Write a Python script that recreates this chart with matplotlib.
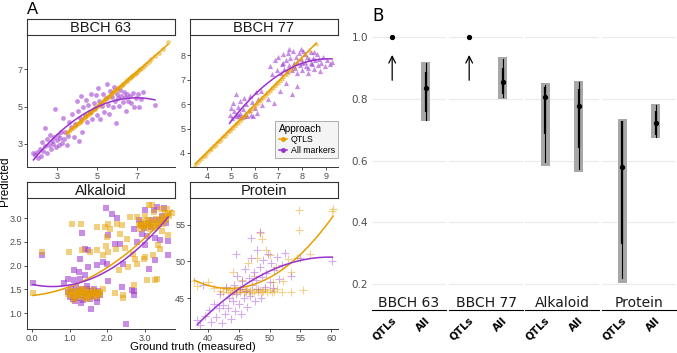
import numpy as np
import matplotlib
matplotlib.use("Agg")
import matplotlib.pyplot as plt
import matplotlib.transforms as mtransforms
from matplotlib.lines import Line2D

W, H = 677, 353
ORANGE = "#E69F00"
PURPLE = "#9A32CD"
SANS = "Liberation Sans"

# ---------------- panel A : predicted vs ground truth ----------------
b63_qtl_x = [3.50, 3.62, 3.71, 3.80, 3.88, 3.95, 4.02, 4.08, 4.15, 4.21, 4.27, 4.33, 4.40,
             4.46, 4.52, 4.58, 4.64, 4.70, 4.77, 4.83, 4.90, 4.96, 5.03, 5.10, 5.16, 5.22,
             5.29, 5.35, 5.41, 5.48, 5.55, 5.61, 5.68, 5.74, 5.81, 5.87, 5.93, 6.00, 6.06,
             6.12, 6.19, 6.25, 6.31, 6.37, 6.44, 6.50, 6.56, 6.63, 6.69, 6.76, 6.82, 6.89,
             6.95, 7.02, 7.09, 7.16, 7.24, 7.33, 7.45, 7.58, 7.72, 7.90, 8.10, 8.30, 8.55]
b63_qtl_y = [3.56, 3.66, 3.77, 3.83, 3.93, 3.98, 4.05, 4.11, 4.16, 4.24, 4.28, 4.36, 4.41,
             4.47, 4.54, 4.58, 4.66, 4.71, 4.77, 4.84, 4.89, 4.97, 5.02, 5.09, 5.15, 5.21,
             5.27, 5.34, 5.39, 5.46, 5.52, 5.58, 5.64, 5.71, 5.76, 5.83, 5.88, 5.94, 6.00,
             6.05, 6.12, 6.17, 6.23, 6.29, 6.35, 6.40, 6.47, 6.52, 6.58, 6.64, 6.70, 6.76,
             6.82, 6.88, 6.95, 7.01, 7.09, 7.17, 7.29, 7.41, 7.55, 7.72, 7.91, 8.10, 8.47]
b63_all_x = [1.82, 1.90, 2.00, 2.05, 2.15, 2.20, 2.25, 2.30, 2.40, 2.40, 2.50, 2.50, 2.60,
             2.65, 2.70, 2.75, 2.80, 2.85, 2.90, 2.95, 3.00, 3.05, 3.10, 3.15, 3.20, 3.25,
             3.30, 3.35, 3.40, 3.50, 3.55, 3.60, 3.70, 3.75, 3.85, 3.90, 4.00, 4.05, 4.10,
             4.15, 4.20, 4.25, 4.30, 4.40, 4.45, 4.50, 4.55, 4.65, 4.70, 4.75, 4.85, 4.90,
             4.95, 5.00, 5.05, 5.10, 5.15, 5.25, 5.30, 5.35, 5.45, 5.50, 5.55, 5.60, 5.65,
             5.75, 5.80, 5.85, 5.90, 5.95, 6.00, 6.05, 6.10, 6.15, 6.20, 6.30, 6.35, 6.40,
             6.45, 6.50, 6.55, 6.65, 6.70, 6.80, 6.85, 6.95, 7.05, 7.10, 7.20, 7.30, 7.90]
b63_all_y = [2.47, 2.40, 2.55, 2.25, 2.70, 2.35, 3.10, 2.60, 2.85, 3.85, 2.50, 3.25, 2.95,
             3.45, 2.70, 3.15, 3.00, 3.35, 4.85, 2.80, 3.20, 3.45, 2.95, 3.30, 3.60, 3.05,
             4.40, 3.25, 3.65, 2.90, 3.40, 4.15, 3.90, 4.60, 3.35, 4.05, 5.30, 4.75, 3.15,
             4.40, 5.55, 3.60, 4.95, 4.55, 5.35, 4.15, 5.10, 4.70, 5.70, 4.35, 5.20, 4.90,
             5.60, 4.55, 6.00, 5.30, 4.30, 5.05, 5.70, 4.70, 5.45, 6.20, 5.10, 4.60, 5.85,
             5.50, 4.95, 6.05, 5.30, 4.10, 5.70, 5.45, 5.05, 5.90, 5.55, 5.25, 5.80, 5.50,
             4.75, 5.70, 5.30, 5.55, 5.20, 5.75, 4.95, 5.45, 5.65, 5.00, 5.40, 5.80, 5.10]

b77_qtl_x = [3.52, 3.60, 3.68, 3.75, 3.83, 3.90, 3.97, 4.04, 4.11, 4.18, 4.25, 4.32, 4.39,
             4.46, 4.53, 4.60, 4.67, 4.74, 4.81, 4.88, 4.95, 5.02, 5.09, 5.16, 5.23, 5.30,
             5.37, 5.44, 5.51, 5.58, 5.65, 5.72, 5.79, 5.86, 5.93, 6.00, 6.07, 6.14, 6.21,
             6.28, 6.35, 6.42, 6.49, 6.56, 6.63, 6.70, 6.77, 6.84, 6.91, 6.98, 7.05, 7.13,
             7.21, 7.30, 7.40, 7.52, 7.65, 7.80, 7.95, 8.12, 8.30, 8.58]
b77_qtl_y = [3.55, 3.63, 3.72, 3.78, 3.86, 3.93, 3.99, 4.06, 4.14, 4.20, 4.27, 4.33, 4.41,
             4.47, 4.54, 4.60, 4.68, 4.74, 4.80, 4.88, 4.94, 5.01, 5.08, 5.14, 5.22, 5.27,
             5.35, 5.42, 5.47, 5.56, 5.61, 5.70, 5.75, 5.83, 5.90, 5.95, 6.04, 6.10, 6.16,
             6.25, 6.30, 6.38, 6.44, 6.51, 6.59, 6.65, 6.72, 6.79, 6.86, 6.93, 6.99, 7.08,
             7.14, 7.25, 7.33, 7.46, 7.58, 7.73, 7.88, 8.05, 8.22, 8.50]
b77_all_x = [4.95, 5.00, 5.05, 5.10, 5.15, 5.20, 5.20, 5.25, 5.30, 5.35, 5.40, 5.40, 5.45,
             5.50, 5.55, 5.55, 5.60, 5.65, 5.70, 5.75, 5.80, 5.85, 5.90, 5.95, 6.00, 6.05,
             6.10, 6.15, 6.25, 6.30, 6.55, 6.80, 7.05, 7.30, 7.55, 7.80,
             6.65, 6.75, 6.85, 6.95, 7.00, 7.10, 7.15, 7.20, 7.25, 7.30, 7.35, 7.40, 7.45,
             7.50, 7.55, 7.60, 7.65, 7.70, 7.75, 7.80, 7.85, 7.90, 7.95, 8.00, 8.05, 8.10,
             8.15, 8.20, 8.25, 8.30, 8.35, 8.40, 8.45, 8.50, 8.55, 8.60, 8.65, 8.70, 8.80,
             8.85, 8.95, 9.05, 9.15, 9.25, 7.45, 7.95, 8.25, 8.75, 7.80, 8.10, 8.50, 7.60,
             8.00, 8.35, 7.20]
b77_all_y = [5.55, 5.85, 5.45, 6.05, 5.70, 5.50, 6.40, 5.60, 5.90, 5.50, 6.15, 5.65, 5.47,
             5.80, 6.25, 5.50, 5.60, 6.00, 5.50, 5.75, 6.35, 5.55, 6.10, 5.50, 5.85, 6.50,
             5.65, 6.20, 6.55, 5.95, 6.20, 6.05, 6.55, 6.85, 6.40, 6.75,
             7.55, 7.25, 7.80, 7.40, 7.95, 7.30, 7.65, 8.05, 7.45, 7.80, 7.35, 8.10, 7.60,
             7.90, 7.40, 8.20, 7.70, 7.50, 7.95, 7.30, 8.10, 7.60, 7.85, 7.40, 8.20, 7.75,
             7.55, 7.95, 7.30, 7.85, 8.15, 7.65, 7.90, 7.45, 7.80, 8.05, 7.60, 7.85, 7.70,
             7.95, 7.55, 7.80, 7.65, 7.75, 8.25, 8.25, 7.50, 7.35, 7.75, 8.05, 8.15, 7.55,
             7.70, 7.70, 7.70]

alk_qtl_x = [3.10, 3.18, 1.06, 1.30, 1.74, 2.03, 2.08, 2.26, 2.39, 2.61, 2.79, 2.87, 2.95,
             3.03, 3.12, 3.36, 3.49, 3.54, 3.72, 3.45, 3.62, 3.36, 3.40, 3.21, 3.01, 2.97,
             2.74, 2.68, 2.48, 2.52, 1.99, 1.97, 2.03, 1.90, 1.74, 1.55, 1.33, 0.98, 0.28,
             0.03, 3.27, 3.05, 3.31, 2.70, 2.43, 2.43, 2.21, 1.90, 1.77, 1.81, 1.11, 2.79,
             2.24, 2.34, 1.95, 0.95, 1.02, 1.08, 1.15, 1.20, 1.26, 1.32, 1.38, 1.44, 1.50,
             1.55, 1.60, 1.66, 1.72, 1.25, 1.45, 2.90, 2.98, 3.06, 3.14, 3.22, 3.30, 3.38,
             3.46, 3.55, 3.62, 3.00, 3.25, 3.42, 3.58, 2.30, 2.55,
             0.98, 1.04, 1.10, 1.16, 1.22, 1.28, 1.34, 1.40, 1.46, 1.52, 1.58, 1.64, 1.70,
             1.76, 1.82, 1.12, 1.36, 1.48, 1.62, 1.30,
             2.84, 2.92, 3.00, 3.08, 3.16, 3.24, 3.32, 3.40, 3.48, 3.56, 3.64, 2.88, 3.12,
             3.28, 3.52]
alk_qtl_y = [3.28, 3.28, 2.88, 2.88, 2.82, 2.88, 2.77, 2.88, 2.85, 3.03, 3.03, 2.85, 2.86,
             2.84, 2.86, 2.84, 2.93, 3.10, 3.10, 2.72, 2.65, 2.43, 2.36, 2.23, 2.18, 2.14,
             2.14, 2.24, 2.37, 2.56, 2.60, 2.42, 2.28, 2.22, 2.32, 2.28, 2.32, 2.28, 2.28,
             1.42, 1.70, 1.70, 1.73, 1.60, 1.38, 1.33, 1.42, 1.52, 1.38, 1.45, 1.28, 2.04,
             2.35, 2.67, 2.82, 1.40, 1.46, 1.36, 1.44, 1.38, 1.47, 1.35, 1.42, 1.48, 1.37,
             1.43, 1.34, 1.45, 1.40, 1.52, 1.30, 2.92, 2.80, 2.95, 2.78, 2.90, 2.98, 2.88,
             3.02, 2.95, 3.08, 3.05, 3.12, 3.20, 3.18, 1.90, 1.98,
             1.44, 1.38, 1.47, 1.35, 1.42, 1.39, 1.46, 1.33, 1.41, 1.45, 1.38, 1.42, 1.35,
             1.44, 1.40, 1.32, 1.50, 1.37, 1.48, 1.43,
             2.86, 2.83, 2.90, 2.87, 2.84, 2.92, 2.85, 2.95, 2.88, 3.00, 3.04, 2.78, 2.95,
             2.80, 2.98]
alk_all_x = [1.96, 2.12, 2.27, 3.01, 3.23, 3.31, 3.50, 1.33, 2.03, 2.70, 2.92, 3.05, 3.27,
             3.40, 3.62, 2.21, 2.34, 2.79, 3.01, 1.41, 1.50, 1.28, 1.72, 1.90, 1.99, 2.43,
             3.10, 3.27, 3.62, 1.50, 1.11, 1.24, 0.97, 1.11, 1.28, 1.41, 0.84, 2.03, 2.38,
             2.70, 2.70, 2.65, 0.03, 0.28, 1.57, 2.50, 1.72, 2.90, 2.98, 3.08, 3.15, 3.20,
             2.85, 0.95, 1.00, 1.05, 1.08, 1.12, 1.16, 1.20, 1.24, 1.28, 1.32, 1.35, 1.38,
             1.42, 1.46, 1.50, 1.53, 1.57, 1.60, 1.64, 1.68, 1.72, 1.76, 1.80, 1.30, 1.45,
             1.15, 3.35, 3.45, 3.55]
alk_all_y = [3.21, 3.09, 3.00, 3.17, 3.17, 3.24, 3.21, 2.68, 2.64, 2.77, 2.66, 2.62, 2.59,
             2.53, 2.51, 2.46, 2.46, 2.49, 2.43, 2.35, 2.32, 2.15, 2.01, 2.08, 2.04, 2.04,
             1.94, 2.11, 2.22, 1.98, 1.91, 1.87, 1.73, 1.70, 1.73, 1.80, 1.63, 1.67, 1.56,
             1.47, 1.38, 1.49, 1.63, 2.23, 1.10, 0.77, 1.24, 2.88, 2.80, 2.90, 2.82, 2.95,
             2.95, 1.45, 1.35, 1.52, 1.30, 1.42, 1.55, 1.33, 1.46, 1.38, 1.50, 1.28, 1.43,
             1.35, 1.52, 1.40, 1.30, 1.46, 1.36, 1.50, 1.42, 1.33, 1.47, 1.38, 1.22, 1.58,
             1.25, 2.95, 3.05, 2.90]

prot_qtl_x = [42.0, 42.5, 43.0, 43.3, 43.6, 43.9, 44.2, 44.4, 44.7, 45.0, 45.2, 45.5, 45.8,
              46.0, 46.3, 46.6, 46.9, 47.2, 47.5, 47.8, 48.1, 48.4, 48.7, 49.0, 49.3, 49.6,
              50.0, 50.4, 50.8, 51.2, 52.0, 37.8, 38.2, 40.0, 41.0, 44.0, 45.5, 46.5, 47.5,
              48.0, 48.5, 48.7, 49.5, 50.1, 50.5, 51.0, 52.2, 53.0, 53.4, 53.4, 54.5, 54.7,
              54.7, 55.5, 56.5, 60.2, 60.3]
prot_qtl_y = [46.0, 45.8, 46.2, 45.9, 46.1, 45.7, 46.0, 46.3, 45.8, 46.1, 45.9, 46.2, 45.8,
              46.0, 46.3, 45.9, 46.1, 45.7, 46.0, 46.2, 45.9, 46.1, 45.8, 46.0, 46.3, 45.9,
              46.1, 45.8, 46.0, 46.2, 45.9, 47.4, 46.6, 47.2, 46.4, 48.5, 47.5, 49.8, 48.0,
              50.5, 53.9, 53.0, 51.5, 50.9, 47.2, 49.3, 47.3, 50.3, 48.6, 45.9, 50.5, 57.0,
              54.3, 46.1, 51.0, 56.8, 57.2]
prot_all_x = [38.3, 38.8, 39.2, 39.5, 40.2, 40.5, 41.0, 41.3, 41.8, 42.0, 42.3, 42.5, 42.8,
              43.0, 43.2, 43.5, 43.7, 44.0, 44.2, 44.4, 44.6, 44.8, 45.0, 45.2, 45.4, 45.6,
              45.8, 46.0, 46.2, 46.4, 46.6, 46.8, 47.0, 47.2, 47.4, 47.6, 47.8, 48.0, 48.2,
              48.4, 48.6, 48.8, 49.0, 49.2, 49.4, 49.7, 50.0, 50.2, 50.5, 50.8, 51.2, 51.5,
              52.0, 52.5, 48.4, 47.0, 44.5, 53.5, 55.0, 60.2]
prot_all_y = [42.0, 41.3, 46.8, 42.6, 43.4, 41.8, 44.2, 42.5, 43.6, 45.5, 41.6, 44.0, 42.8,
              46.5, 43.7, 45.0, 42.2, 44.6, 46.8, 43.3, 45.6, 48.0, 44.2, 46.3, 42.9, 47.4,
              45.0, 49.0, 46.0, 43.8, 47.8, 45.3, 50.5, 46.8, 48.6, 44.6, 47.5, 51.6, 46.2,
              49.3, 45.0, 47.9, 50.2, 46.5, 48.4, 51.0, 47.2, 49.8, 46.4, 48.8, 50.6, 47.6,
              49.5, 51.2, 54.0, 53.2, 51.0, 48.0, 50.4, 50.1]

# ---------------- panel B : accuracy intervals ----------------
b_traits = ["BBCH 63", "BBCH 77", "Alkaloid", "Protein"]
b_groups = ["QTLs", "All"]
nan = np.nan
b_med = [[1.000, 0.835], [1.000, 0.854], [0.805, 0.777], [0.579, 0.722]]
b_box_lo = [[nan, 0.728], [nan, 0.799], [0.582, 0.562], [0.202, 0.673]]
b_box_hi = [[nan, 0.919], [nan, 0.934], [0.850, 0.859], [0.733, 0.782]]
b_thin_lo = [[nan, 0.731], [nan, 0.807], [0.594, 0.571], [0.220, 0.677]]
b_thin_hi = [[nan, 0.917], [nan, 0.929], [0.844, 0.854], [0.729, 0.779]]
b_thick_lo = [[nan, 0.757], [nan, 0.814], [0.685, 0.640], [0.330, 0.682]]
b_thick_hi = [[nan, 0.887], [nan, 0.901], [0.837, 0.831], [0.729, 0.760]]
b_arrow = [(0.851, 0.951), (0.851, 0.951), None, None]


def box(l, t, r, b):
    return [l / W, 1 - b / H, (r - l) / W, (b - t) / H]


fig = plt.figure(figsize=(W / 100, H / 100), dpi=100)

panels = [
    ("BBCH 63", (27, 36, 175, 167), (1.5, 8.9), (1.74, 8.8), [3, 5, 7], [3, 5, 7], "%g",
     b63_qtl_x, b63_qtl_y, b63_all_x, b63_all_y, "o", 12, "circ"),
    ("BBCH 77", (190, 36, 338, 167), (3.29, 9.5), (3.42, 8.8), [4, 5, 6, 7, 8, 9], [4, 5, 6, 7, 8], "%g",
     b77_qtl_x, b77_qtl_y, b77_all_x, b77_all_y, "^", 14, "tri"),
    ("Alkaloid", (27, 199, 175, 329), (-0.13, 3.8), (0.67, 3.4), [0, 1, 2, 3], [1.0, 1.5, 2.0, 2.5, 3.0], "%.1f",
     alk_qtl_x, alk_qtl_y, alk_all_x, alk_all_y, "s", 13, "sq"),
    ("Protein", (190, 199, 338, 329), (37.1, 61.1), (40.8, 58.5), [40, 45, 50, 55, 60], [45, 50, 55], "%g",
     prot_qtl_x, prot_qtl_y, prot_all_x, prot_all_y, "+", 32, "plus"),
]

axes_a = {}
for name, (l, t, r, b), xl, yl, xt, yt, fmt, qx, qy, ax_x, ax_y, mk, sz, kind in panels:
    ax = fig.add_axes(box(l, t, r, b))
    axes_a[name] = ax
    if kind == "plus":
        ax.scatter(qx, qy, marker=mk, s=sz, color=ORANGE, alpha=0.45, linewidths=0.8)
        ax.scatter(ax_x, ax_y, marker=mk, s=sz, color=PURPLE, alpha=0.4, linewidths=0.8)
    else:
        ax.scatter(ax_x, ax_y, marker=mk, s=sz, color=PURPLE, alpha=0.55, linewidths=0)
        ax.scatter(qx, qy, marker=mk, s=sz, color=ORANGE, alpha=0.5, linewidths=0)
    # smooth fits (2nd-degree polynomial, like geom_smooth with poly)
    for xs, ys, col in [(qx, qy, ORANGE), (ax_x, ax_y, PURPLE)]:
        coef = np.polyfit(xs, ys, 2)
        gx = np.linspace(min(xs), max(xs), 200)
        ax.plot(gx, np.polyval(coef, gx), color=col, lw=1.1)
    ax.set_xlim(xl)
    ax.set_ylim(yl)
    ax.set_xticks(xt)
    ax.set_yticks(yt)
    ax.set_xticklabels([fmt % v for v in xt])
    ax.set_yticklabels([fmt % v for v in yt])
    for s in ["top", "right"]:
        ax.spines[s].set_visible(False)
    for s in ["left", "bottom"]:
        ax.spines[s].set_color("#333333")
        ax.spines[s].set_linewidth(0.7)
    ax.tick_params(length=2.2, width=0.6, color="#333333", labelsize=6.5,
                   labelcolor="#4D4D4D", pad=1.2)
    for lab in ax.get_xticklabels() + ax.get_yticklabels():
        lab.set_family(SANS)
    # facet strip
    st = fig.add_axes(box(l, t - 17, r, t - 1))
    st.set_xticks([])
    st.set_yticks([])
    for s in st.spines.values():
        s.set_color("#333333")
        s.set_linewidth(0.8)
    st.text(0.5, 0.45, name, ha="center", va="center", fontsize=10.5, family=SANS,
            color="#1A1A1A", transform=st.transAxes)

leg_handles = [
    Line2D([0], [0], color=ORANGE, marker="o", markersize=2.5, lw=1.1),
    Line2D([0], [0], color=PURPLE, marker="o", markersize=2.5, lw=1.1),
]
leg = axes_a["BBCH 77"].legend(leg_handles, ["QTLS", "All markers"], title="Approach",
                               loc="lower right", bbox_to_anchor=(1.0, 0.07),
                               borderaxespad=0, title_fontsize=7.3,
                               frameon=True, fancybox=False, handlelength=1.0,
                               handletextpad=0.4, labelspacing=0.15, borderpad=0.35,
                               prop={"family": SANS, "size": 6.3})
leg.get_frame().set_facecolor("#F2F2F2")
leg.get_frame().set_edgecolor("#8C8C8C")
leg.get_frame().set_linewidth(0.6)
leg.get_title().set_family(SANS)
leg._legend_box.align = "left"

fig.text(27 / W, 1 - 9 / H, "A", fontsize=12, family=SANS, ha="left", va="center")
fig.text(5 / W, 1 - 181 / H, "Predicted", fontsize=8.5, family=SANS, rotation=90,
         ha="center", va="center")
fig.text(193 / W, 1 - 347 / H, "Ground truth (measured)", fontsize=8.2, family=SANS,
         ha="center", va="center")

# ---------------- panel B ----------------
fig.text(372 / W, 1 - 16 / H, "B", fontsize=12, family="DejaVu Sans", ha="left", va="center")
lefts = [372, 449, 525, 602]
for i, trait in enumerate(b_traits):
    l = lefts[i]
    ax = fig.add_axes(box(l, 24.7, l + 74, 295.7))
    ax.set_xlim(0.4, 2.6)
    ax.set_ylim(0.162, 1.04)
    for s in ax.spines.values():
        s.set_visible(False)
    ax.set_yticks([0.2, 0.4, 0.6, 0.8, 1.0])
    ax.grid(axis="y", color="#EBEBEB", lw=0.8)
    ax.set_axisbelow(True)
    if i == 0:
        ax.set_yticklabels(["%.1f" % v for v in [0.2, 0.4, 0.6, 0.8, 1.0]])
        ax.tick_params(axis="y", length=0, labelsize=7.5, labelcolor="#4D4D4D", pad=3)
    else:
        ax.tick_params(axis="y", length=0, labelleft=False)
    xs = [1, 2]
    for j in range(2):
        if not np.isnan(b_box_lo[i][j]):
            ax.bar(xs[j], b_box_hi[i][j] - b_box_lo[i][j], bottom=b_box_lo[i][j], width=0.26,
                   color="#A8A8A8", zorder=2)
            ax.plot([xs[j], xs[j]], [b_thin_lo[i][j], b_thin_hi[i][j]], color="black", lw=0.8,
                    zorder=3)
            ax.plot([xs[j], xs[j]], [b_thick_lo[i][j], b_thick_hi[i][j]], color="black", lw=1.6,
                    zorder=3, solid_capstyle="butt")
        ax.plot(xs[j], b_med[i][j], "o", color="black", markersize=2.8, zorder=4)
    if b_arrow[i] is not None:
        ax.annotate("", xy=(1, b_arrow[i][1]), xytext=(1, b_arrow[i][0]),
                    arrowprops=dict(arrowstyle="->", color="black", lw=0.9,
                                    mutation_scale=12))
    ax.set_xticks(xs)
    ax.set_xticklabels(b_groups, rotation=45, ha="right", fontweight="bold", fontsize=7.5)
    ax.tick_params(axis="x", length=0, pad=14)
    off = mtransforms.ScaledTranslation(6 / 100, 0, fig.dpi_scale_trans)
    for lab in ax.get_xticklabels():
        lab.set_transform(lab.get_transform() + off)
    ax.text(0.5, -0.028, trait, transform=ax.transAxes, ha="center", va="center",
            fontsize=10, color="#1A1A1A")
    ax.add_line(Line2D([0, 1], [-0.053, -0.053], transform=ax.transAxes, color="black",
                       lw=0.8, clip_on=False))

fig.savefig("out.png", dpi=100)
